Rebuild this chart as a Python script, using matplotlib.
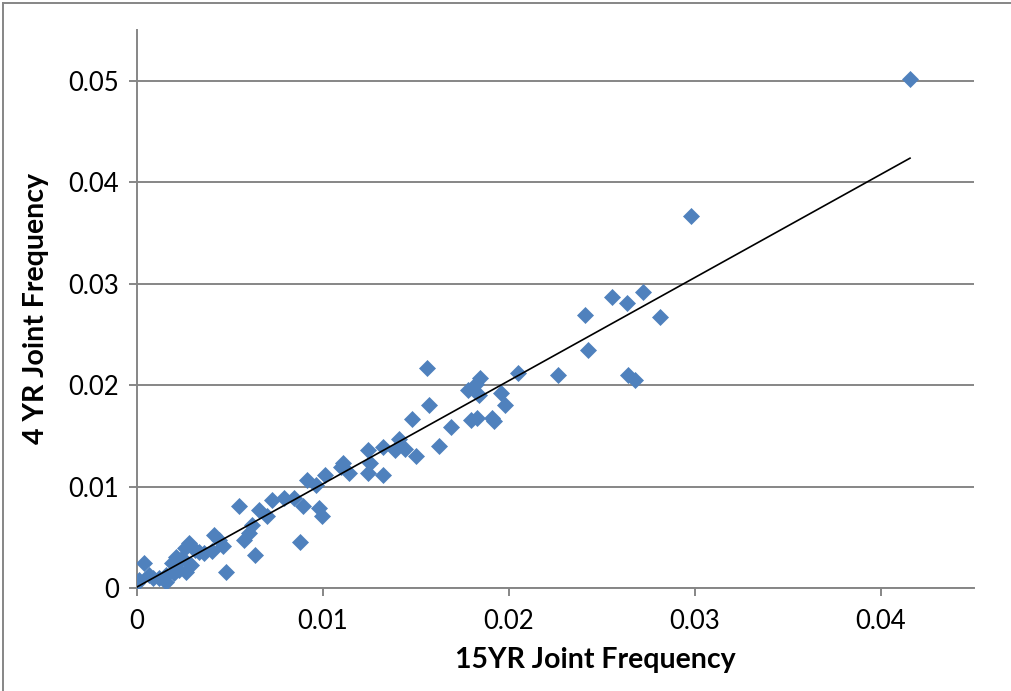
import numpy as np
import matplotlib
matplotlib.use("Agg")
import matplotlib.pyplot as plt

plt.rcParams['font.family'] = ['Lato', 'DejaVu Sans']

# Joint frequencies of each pair: 15-year window vs 4-year window
freq_15yr = [
    0.04156, 0.02976, 0.02718, 0.02552, 0.02633, 0.02408, 0.02810, 0.02424,
    0.02263, 0.02638, 0.02676, 0.02048, 0.01560, 0.01845, 0.01823, 0.01780,
    0.01839, 0.01957, 0.01979, 0.01571, 0.01480, 0.01689, 0.01796, 0.01828,
    0.01909, 0.01920, 0.01625, 0.01410, 0.01324, 0.01389, 0.01442, 0.01501,
    0.01244, 0.01255, 0.01244, 0.01324, 0.01110, 0.01142, 0.01099, 0.01013,
    0.00912, 0.00960, 0.00842, 0.00788, 0.00724, 0.00895, 0.00976, 0.00992,
    0.00654, 0.00697, 0.00547, 0.00874, 0.00617, 0.00601, 0.00574, 0.00633,
    0.00477, 0.00413, 0.00440, 0.00402, 0.00461, 0.00359, 0.00279, 0.00257,
    0.00311, 0.00038, 0.00209, 0.00241, 0.00188, 0.00225, 0.00263, 0.00155,
    0.00118, 0.00064, 0.00011, 0.00000, 0.00155, 0.00332, 0.00086, 0.00290,
    0.00198,
]
freq_4yr = [
    0.05020, 0.03664, 0.02917, 0.02868, 0.02809, 0.02692, 0.02672, 0.02348,
    0.02102, 0.02102, 0.02053, 0.02122, 0.02171, 0.02073, 0.02014, 0.01955,
    0.01906, 0.01925, 0.01807, 0.01807, 0.01670, 0.01591, 0.01660, 0.01680,
    0.01680, 0.01650, 0.01395, 0.01464, 0.01385, 0.01365, 0.01375, 0.01306,
    0.01356, 0.01228, 0.01130, 0.01110, 0.01228, 0.01130, 0.01189, 0.01110,
    0.01061, 0.01012, 0.00884, 0.00884, 0.00864, 0.00806, 0.00786, 0.00707,
    0.00766, 0.00707, 0.00806, 0.00452, 0.00619, 0.00540, 0.00472, 0.00324,
    0.00157, 0.00521, 0.00472, 0.00363, 0.00413, 0.00344, 0.00442, 0.00393,
    0.00373, 0.00246, 0.00305, 0.00295, 0.00246, 0.00177, 0.00157, 0.00128,
    0.00098, 0.00128, 0.00079, 0.00049, 0.00059, 0.00354, 0.00098, 0.00230,
    0.00147,
]

# Linear trendline coefficients (y = slope * x + intercept)
trend_slope = 1.017
trend_intercept = 0.0001

x_ticks = [0, 0.01, 0.02, 0.03, 0.04]
y_ticks = [0, 0.01, 0.02, 0.03, 0.04, 0.05]
x_tick_labels = ['0', '0.01', '0.02', '0.03', '0.04']
y_tick_labels = ['0', '0.01', '0.02', '0.03', '0.04', '0.05']

x = np.array(freq_15yr)
y = np.array(freq_4yr)

fig = plt.figure(figsize=(10.11, 6.91), dpi=100)
ax = fig.add_axes([137 / 1011, 103 / 691, 837 / 1011, 558 / 691])

gray = '#868686'
ax.set_xlim(0, 0.045)
ax.set_ylim(0, 0.055)
ax.set_xticks(x_ticks)
ax.set_xticklabels(x_tick_labels)
ax.set_yticks(y_ticks)
ax.set_yticklabels(y_tick_labels)
ax.yaxis.grid(True, color=gray, linewidth=1.4)
ax.set_axisbelow(True)
for side in ('top', 'right'):
    ax.spines[side].set_visible(False)
for side in ('left', 'bottom'):
    ax.spines[side].set_color(gray)
    ax.spines[side].set_linewidth(1.4)
ax.tick_params(axis='both', direction='out', length=6, width=1.4, color=gray,
               labelsize=18.5, labelcolor='black')
ax.tick_params(axis='x', pad=9)
ax.tick_params(axis='y', pad=7)

ax.plot(x, y, linestyle='none', marker='D', markersize=8.0,
        markerfacecolor='#4F81BD', markeredgecolor='#4F81BD',
        markeredgewidth=0.5, zorder=3)

# Trendline drawn over the data range
xs = np.array([x.min(), x.max()])
ax.plot(xs, trend_slope * xs + trend_intercept, color='black',
        linewidth=1.2, zorder=4)

ax.set_xlabel('15YR Joint Frequency', fontsize=20.5, fontweight='bold')
ax.xaxis.set_label_coords(0.547, -0.106)
ax.set_ylabel('4 YR Joint Frequency', fontsize=20.5, fontweight='bold', labelpad=14)

# outer chart frame
fig.add_artist(plt.Line2D([3 / 1011, 3 / 1011], [0, 1 - 3 / 691],
                          transform=fig.transFigure, color=gray, linewidth=1.4))
fig.add_artist(plt.Line2D([3 / 1011, 1], [1 - 3 / 691, 1 - 3 / 691],
                          transform=fig.transFigure, color=gray, linewidth=1.4))

fig.savefig('out.png', dpi=100)
